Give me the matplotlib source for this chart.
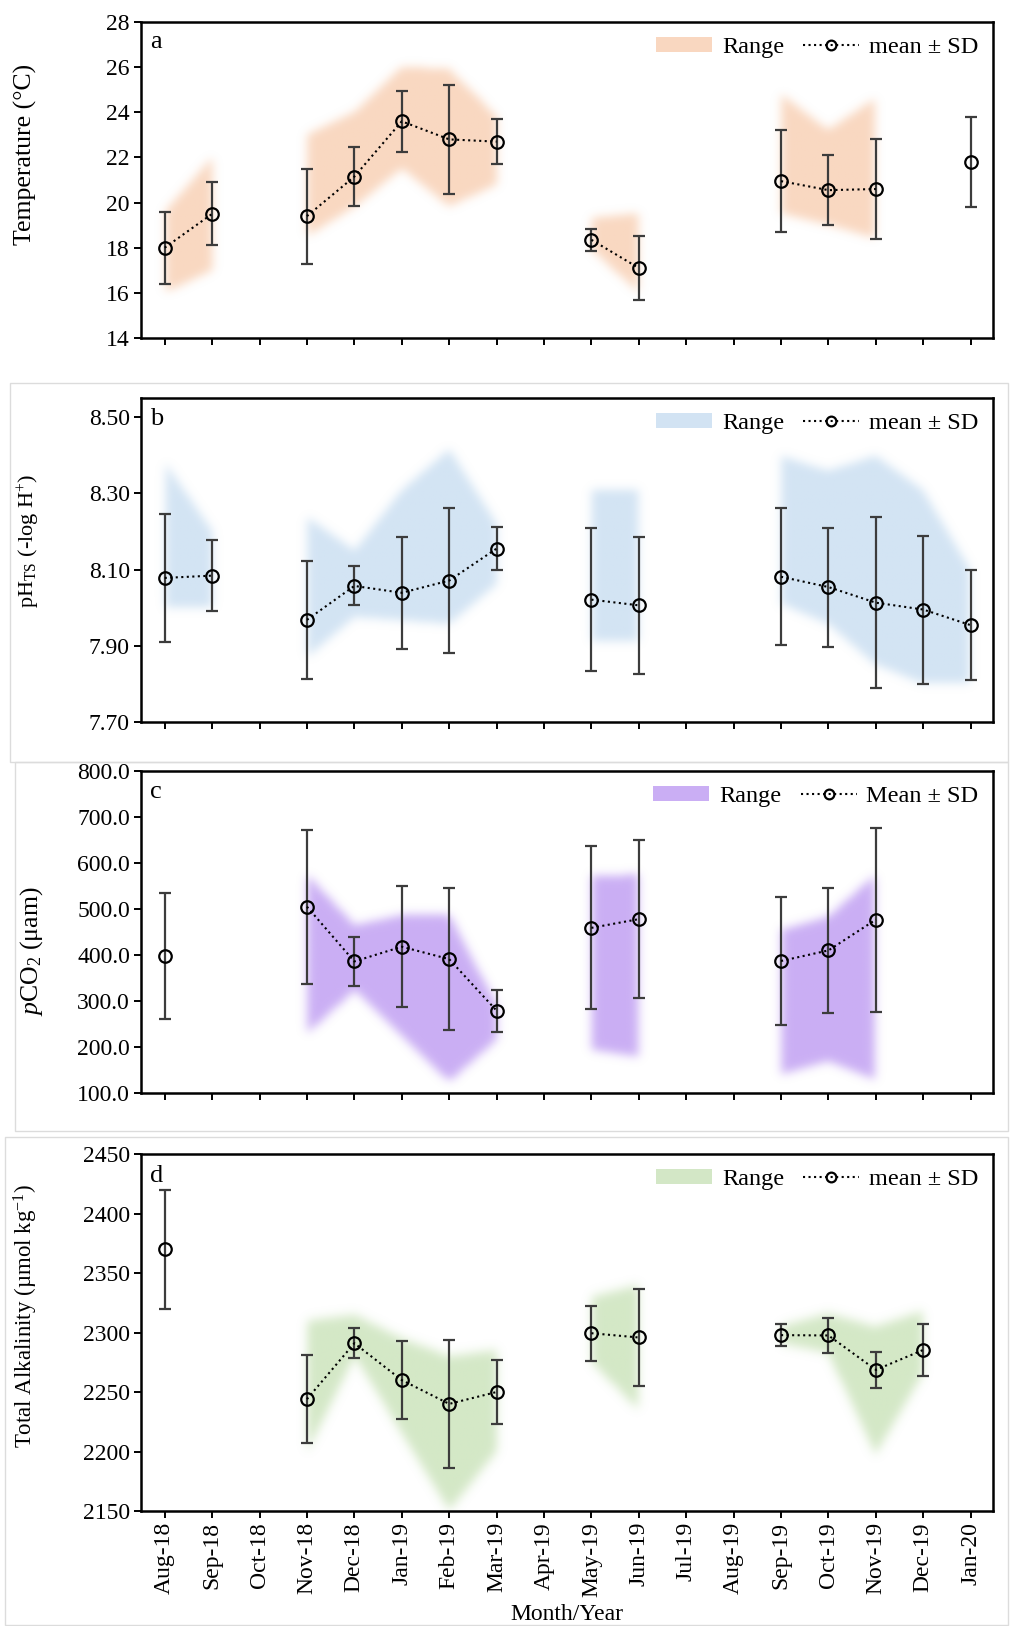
import numpy as np
import matplotlib
matplotlib.use('Agg')
import matplotlib.pyplot as plt
from matplotlib.colors import to_rgb
from matplotlib.lines import Line2D
from matplotlib.patches import Patch, Rectangle

plt.rcParams['font.family'] = ['Liberation Serif', 'DejaVu Serif']
plt.rcParams['mathtext.fontset'] = 'custom'
plt.rcParams['mathtext.rm'] = 'Liberation Serif'
plt.rcParams['mathtext.it'] = 'Liberation Serif:italic'

nan = np.nan

months = ['Aug-18', 'Sep-18', 'Oct-18', 'Nov-18', 'Dec-18', 'Jan-19', 'Feb-19', 'Mar-19', 'Apr-19',
          'May-19', 'Jun-19', 'Jul-19', 'Aug-19', 'Sep-19', 'Oct-19', 'Nov-19', 'Dec-19', 'Jan-20']

# temperature (deg C)
temp_mean = [18.0, 19.5, nan, 19.4, 21.15, 23.6, 22.8, 22.7, nan, 18.35, 17.1, nan, nan, 20.95, 20.55, 20.6, nan, 21.8]
temp_sd = [1.6, 1.4, nan, 2.1, 1.3, 1.35, 2.4, 1.0, nan, 0.5, 1.4, nan, nan, 2.25, 1.55, 2.2, nan, 2.0]
temp_min = [16.0, 17.0, nan, 18.5, 19.8, 21.5, 19.8, 20.8, nan, 17.9, 16.0, nan, nan, 19.5, 19.0, 18.4, nan, nan]
temp_max = [19.6, 22.0, nan, 23.0, 24.0, 26.0, 25.9, 23.8, nan, 19.3, 19.5, nan, nan, 24.8, 23.2, 24.6, nan, nan]

# pH (total scale)
ph_mean = [8.078, 8.084, nan, 7.968, 8.057, 8.039, 8.071, 8.155, nan, 8.021, 8.006, nan, nan, 8.081, 8.054, 8.013, 7.995, 7.954]
ph_sd = [0.168, 0.093, nan, 0.155, 0.051, 0.147, 0.19, 0.057, nan, 0.187, 0.179, nan, nan, 0.18, 0.156, 0.224, 0.194, 0.145]
ph_min = [8.00, 8.00, nan, 7.87, 7.975, 7.966, 7.957, 8.062, nan, 7.91, 7.91, nan, nan, 8.01, 7.957, 7.85, 7.80, 7.80]
ph_max = [8.38, 8.20, nan, 8.238, 8.15, 8.31, 8.417, 8.22, nan, 8.31, 8.31, nan, nan, 8.40, 8.36, 8.40, 8.31, 8.10]

# pCO2 (uatm)
co2_mean = [397, nan, nan, 505, 386, 418, 391, 279, nan, 459, 478, nan, nan, 387, 410, 477, nan, nan]
co2_sd = [137, nan, nan, 167, 54, 132, 154, 46, nan, 177, 171, nan, nan, 140, 135, 200, nan, nan]
co2_min = [nan, nan, nan, 229, 323, 222, 124, 215, nan, 193, 178, nan, nan, 139, 168, 128, nan, nan]
co2_max = [nan, nan, nan, 575, 465, 487, 487, 290, nan, 573, 575, nan, nan, 454, 483, 575, nan, nan]

# total alkalinity (umol/kg)
ta_mean = [2370, nan, nan, 2244, 2291, 2260, 2240, 2250, nan, 2299.4, 2295.8, nan, nan, 2297.8, 2297.5, 2268.6, 2285.4, nan]
ta_sd = [50, nan, nan, 37, 12.5, 33, 54, 27, nan, 23, 41, nan, nan, 9, 15, 15, 22, nan]
ta_min = [nan, nan, nan, 2200, 2280, 2215, 2150, 2200, nan, 2275, 2235, nan, nan, 2291, 2283, 2197, 2265, nan]
ta_max = [nan, nan, nan, 2310, 2315, 2295, 2280, 2285, nan, 2330, 2340, nan, nan, 2305, 2316, 2305, 2318, nan]

W, H = 1010, 1626
XLIM = (-0.5, 17.47)


def blur(a, sigma):
    t = np.arange(-3 * int(sigma) - 1, 3 * int(sigma) + 2)
    k = np.exp(-0.5 * (t / sigma) ** 2)
    k /= k.sum()
    a = np.apply_along_axis(lambda r: np.convolve(r, k, mode='same'), 1, a)
    a = np.apply_along_axis(lambda r: np.convolve(r, k, mode='same'), 0, a)
    return a


def soft_band(ax, lo, hi, color, alpha, ylim, sigma=3.5):
    # min-max envelope drawn as a soft-edged image in data coordinates
    lo = np.asarray(lo, float)
    hi = np.asarray(hi, float)
    nx, ny = 620, 240
    xs = np.linspace(XLIM[0], XLIM[1], nx)
    ys = np.linspace(ylim[0], ylim[1], ny)
    X, Y = np.meshgrid(xs, ys)
    mask = np.zeros_like(X)
    x = np.arange(len(lo))
    ok = ~(np.isnan(lo) | np.isnan(hi))
    runs, cur = [], []
    for i in range(len(lo)):
        if ok[i]:
            cur.append(i)
        elif cur:
            runs.append(cur)
            cur = []
    if cur:
        runs.append(cur)
    for run in runs:
        if len(run) < 2:
            continue
        xr = x[run]
        ylo = np.interp(X, xr, lo[run])
        yhi = np.interp(X, xr, hi[run])
        mask[(X >= xr[0]) & (X <= xr[-1]) & (Y >= ylo) & (Y <= yhi)] = 1.0
    mask = blur(mask, sigma)
    rgba = np.zeros((ny, nx, 4))
    rgba[..., :3] = to_rgb(color)
    rgba[..., 3] = np.clip(mask, 0, 1) * alpha
    ax.imshow(rgba, extent=(XLIM[0], XLIM[1], ylim[0], ylim[1]), origin='lower',
              aspect='auto', zorder=0, interpolation='bilinear')


def panel(rect, mean, sd, lo, hi, color, alpha, ylim, yticks, fmt, ylabel, ylabel_size,
          ylabel_pos, letter, mean_label, show_x=False):
    left, top, right, bottom = rect
    ax = fig.add_axes([left / W, 1 - bottom / H, (right - left) / W, (bottom - top) / H])
    soft_band(ax, lo, hi, color, alpha, ylim)
    x = np.arange(len(months))
    ax.errorbar(x, mean, yerr=sd, fmt='none', ecolor='#3c3c3c', elinewidth=1.6,
                capsize=4, capthick=1.6, zorder=2)
    ax.plot(x, mean, linestyle=':', color='black', linewidth=1.5, marker='o', ms=9,
            mfc='none', mec='black', mew=1.6, zorder=3)
    ax.set_xlim(*XLIM)
    ax.set_ylim(*ylim)
    ax.set_yticks(yticks)
    ax.set_yticklabels([fmt.format(v) for v in yticks])
    ax.set_xticks(x)
    if show_x:
        ax.set_xticklabels(months, rotation=90, fontsize=17)
        ax.set_xlabel('Month/Year', fontsize=17, labelpad=5)
    else:
        ax.set_xticklabels([])
    ax.tick_params(direction='out', length=5, width=1.4, labelsize=17, pad=3)
    for s in ax.spines.values():
        s.set_linewidth(1.8)
    ax.set_ylabel(ylabel, fontsize=ylabel_size)
    ax.yaxis.set_label_coords(*ylabel_pos)
    ax.text(0.011, 0.97, letter, transform=ax.transAxes, fontsize=19, va='top', ha='left')
    handles = [Patch(facecolor=color, alpha=alpha, edgecolor='none'),
               Line2D([], [], linestyle=':', color='black', linewidth=1.5, marker='o', ms=7,
                      mfc='none', mec='black', mew=1.6)]
    ax.legend(handles, ['Range', mean_label], loc='upper right', ncol=2, frameon=False,
              fontsize=17.5, handlelength=2.3, handleheight=0.6, columnspacing=0.8,
              handletextpad=0.4, borderaxespad=0.2)
    return ax


fig = plt.figure(figsize=(W / 100, H / 100), dpi=100)

# faint outlines around the stacked panels
for (x0, y0, x1, y1) in [(10, 383, 1008, 762), (15, 762, 1008, 1131), (5, 1137, 1008, 1625)]:
    fig.add_artist(Rectangle((x0 / W, 1 - y1 / H), (x1 - x0) / W, (y1 - y0) / H,
                             transform=fig.transFigure, fill=False, edgecolor='#dcdcdc',
                             linewidth=1.0))

panel((141, 22, 993, 338), temp_mean, temp_sd, temp_min, temp_max, '#f4b183', 0.5,
      (14, 28), np.arange(14, 29, 2), '{:.0f}', 'Temperature (°C)', 18.5, (-0.122, 0.58),
      'a', 'mean ± SD')
panel((141, 398, 993, 722), ph_mean, ph_sd, ph_min, ph_max, '#9dc3e6', 0.45,
      (7.70, 8.55), np.arange(7.70, 8.51, 0.20), '{:.2f}',
      'pH$_{\\mathrm{TS}}$ (-log H$^{+}$)', 16, (-0.116, 0.56), 'b', 'mean ± SD')
panel((141, 771, 993, 1093), co2_mean, co2_sd, co2_min, co2_max, '#b48cf0', 0.7,
      (100, 800), np.arange(100, 801, 100), '{:.1f}', '$p$CO$_{2}$ (μam)', 18.5, (-0.113, 0.44),
      'c', 'Mean ± SD')
panel((141, 1154, 993, 1511), ta_mean, ta_sd, ta_min, ta_max, '#a9d18e', 0.5,
      (2150, 2450), np.arange(2150, 2451, 50), '{:.0f}',
      'Total Alkalinity (µmol kg$^{-1}$)', 16.5, (-0.118, 0.545), 'd', 'mean ± SD', show_x=True)

fig.savefig('out.png', dpi=100)
